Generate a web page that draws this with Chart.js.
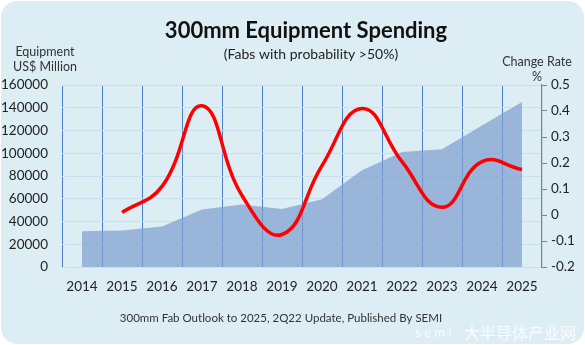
<!DOCTYPE html>
<html>
<head>
<meta charset="utf-8">
<script src="https://cdn.jsdelivr.net/npm/chart.js@4.4.0/dist/chart.umd.min.js"></script>
<style>
    body { margin: 0; background: #ffffff; }
    .tile { position: absolute; left: 1px; top: 1px; width: 583px; height: 343px; background: #dceef3; border-radius: 16px; }
    #wrap { position: absolute; left: 0; top: 0; width: 585px; height: 345px; }
</style>
</head>
<body>
<div class="tile"></div>
<div id="wrap"><canvas id="spend_chart" width="585" height="345"></canvas></div>
<script>
// values
var years = ['2014', '2015', '2016', '2017', '2018', '2019', '2020', '2021', '2022', '2023', '2024', '2025'];
var spending = [31500, 32000, 35500, 50500, 55000, 51000, 59500, 85000, 101000, 103500, 124500, 145000];
var change_rate = [null, 0.01, 0.11, 0.42, 0.075, -0.075, 0.19, 0.41, 0.205, 0.03, 0.205, 0.175];

var font_main = 'Lato, "Open Sans", sans-serif';

// titles and axis captions sit outside the plot, drawn by hand
var captions = {
    id: 'captions',
    afterDraw: function (chart) {
        var ctx = chart.ctx;
        ctx.save();
        ctx.textAlign = 'center';
        ctx.textBaseline = 'middle';
        ctx.fillStyle = '#111111';
        ctx.font = 'bold 22px ' + font_main;
        ctx.fillText('300mm Equipment Spending', 306, 31);
        ctx.font = '14px ' + font_main;
        ctx.fillStyle = '#222222';
        ctx.fillText('(Fabs with probability >50%)', 311, 54);
        ctx.font = '12.5px ' + font_main;
        ctx.fillStyle = '#333333';
        ctx.fillText('Equipment', 45, 52);
        ctx.fillText('US$ Million', 45, 67);
        ctx.fillText('Change Rate', 537, 62);
        ctx.fillText('%', 537, 77);
        ctx.font = '11.5px ' + font_main;
        ctx.fillStyle = '#333333';
        ctx.fillText('300mm Fab Outlook to 2025, 2Q22 Update, Published By SEMI', 281, 318);
        // faint site watermark
        ctx.fillStyle = 'rgba(255,255,255,0.8)';
        ctx.font = '13px ' + font_main;
        ctx.textAlign = 'left';
        ctx.fillText('s e m i', 415, 333);
        ctx.font = '16px "Noto Sans CJK SC", sans-serif';
        ctx.fillText('大半导体产业网', 464, 333);
        ctx.restore();
    }
};

var ctx_spend = document.getElementById('spend_chart').getContext('2d');

var myChart = new Chart(ctx_spend, {
    type: 'line',
    data: {
        labels: years,
        datasets: [
            {
                label: 'Change Rate',
                data: change_rate,
                yAxisID: 'y1',
                borderColor: '#ff0000',
                borderWidth: 3.5,
                pointRadius: 0,
                tension: 0.45,
                fill: false,
                order: 1
            },
            {
                label: 'Equipment Spending',
                data: spending,
                yAxisID: 'y',
                borderWidth: 0,
                backgroundColor: 'rgba(128,160,206,0.72)',
                pointRadius: 0,
                tension: 0,
                fill: 'origin',
                order: 2
            }
        ]
    },
    options: {
        responsive: false,
        animation: false,
        layout: { padding: { top: 85, bottom: 48, left: 0, right: 0 } },
        plugins: {
            legend: { display: false },
            tooltip: { enabled: false }
        },
        scales: {
            x: {
                offset: true,
                grid: {
                    offset: true,
                    // the extra closing line has no tick; leave it to the grey right axis
                    color: function (c) { return c.tick ? '#4a7fd0' : 'rgba(0,0,0,0)'; },
                    lineWidth: 1,
                    drawTicks: false
                },
                border: { display: false },
                ticks: { color: '#222222', font: { size: 13.5, family: font_main }, padding: 12, maxRotation: 0 },
                afterFit: function (s) { s.height = 30; }
            },
            y: {
                position: 'left',
                min: 0,
                max: 160000,
                ticks: {
                    stepSize: 20000,
                    color: '#222222',
                    font: { size: 13.5, family: font_main },
                    padding: 14,
                    callback: function (v) { return String(v); }
                },
                grid: { color: '#c6e0f0', drawTicks: false },
                border: { display: false },
                afterFit: function (s) { s.width = 62; }
            },
            y1: {
                position: 'right',
                min: -0.2,
                max: 0.5,
                ticks: {
                    stepSize: 0.1,
                    color: '#222222',
                    font: { size: 13.5, family: font_main },
                    padding: 4,
                    callback: function (v) { return String(Math.round(v * 10) / 10); }
                },
                grid: { drawOnChartArea: false, drawTicks: true, tickLength: 5, color: '#808080' },
                border: { display: true, color: '#808080', width: 1.2 },
                afterFit: function (s) { s.width = 43; }
            }
        }
    },
    plugins: [captions]
});
</script>
</body>
</html>
